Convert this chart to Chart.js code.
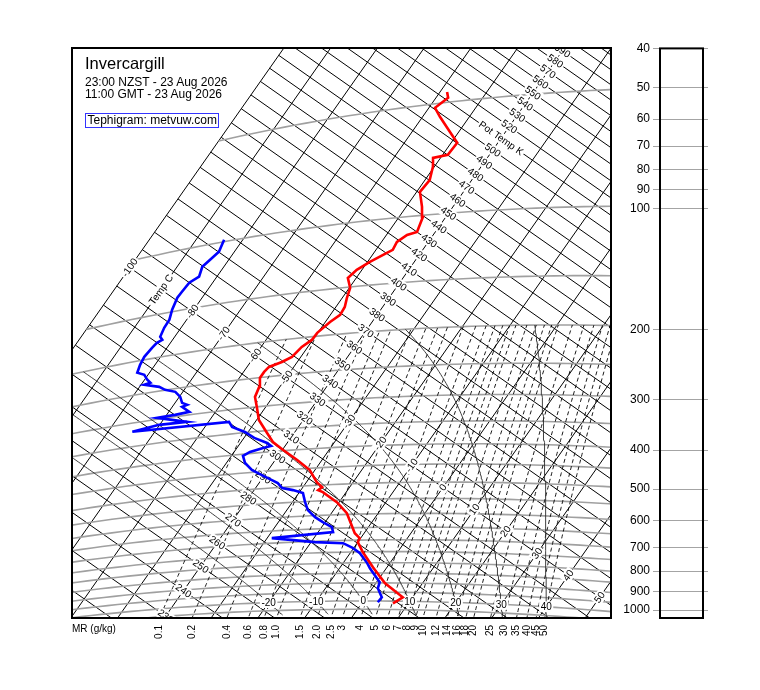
<!DOCTYPE html>
<html>
<head>
<meta charset="utf-8">
<script src="https://cdn.jsdelivr.net/npm/chart.js@4.4.1/dist/chart.umd.min.js"></script>
<style>
  html, body { margin: 0; padding: 0; background: #fff; }
  #wrap { position: relative; width: 760px; height: 690px; font-family: "Liberation Sans", Arial, Helvetica, sans-serif; color: #000; }
  #teph { position: absolute; left: 0; top: 0; }
  #baro { position: absolute; left: 610px; top: 0; }
  .txt { position: absolute; white-space: nowrap; }
  .t1 { left: 85px; top: 55px; font-size: 16.5px; line-height: 16px; }
  .t2 { left: 85px; top: 75.5px; font-size: 12px; line-height: 12px; }
  .t3 { left: 85px; top: 88px; font-size: 12px; line-height: 12px; }
  .src { left: 84.5px; top: 113px; font-size: 12px; line-height: 13px; height: 13px; padding: 0 1px 0 2px; border: 1px solid #3434ff; background: #fff; }
</style>
</head>
<body>
<div id="wrap">
  <canvas id="teph" width="760" height="690"></canvas>
  <canvas id="baro" width="150" height="690"></canvas>
  <div class="txt t1">Invercargill</div>
  <div class="txt t2">23:00 NZST - 23 Aug 2026</div>
  <div class="txt t3">11:00 GMT - 23 Aug 2026</div>
  <div class="txt src">Tephigram: metvuw.com</div>
</div>
<script>
// sounding (hPa, deg C)
const TEMP_P = [1012.9, 977.8, 902.2, 821.5, 751.9, 708.4, 692.0, 671.4, 595.4, 556.4,
  522.1, 515.1, 506.4, 490.6, 455.0, 425.9, 398.1, 377.0, 355.4, 326.2,
  300.2, 281.5, 265.0, 250.5, 241.9, 235.2, 229.9, 224.2, 211.9, 204.1,
  195.9, 184.4, 177.5, 169.4, 160.3, 150.9, 141.5, 135.3, 129.7, 123.9,
  122.0, 116.4, 112.0, 110.6, 101.1, 94.9, 86.3, 80.6, 74.3, 70.3,
  69.6, 64.9, 61.6, 54.5, 51.3, 48.6, 46.8];
const TEMP_T = [6.7, 7.9, 2.0, -3.0, -7.4, -10.0, -10.2, -12.0, -16.7, -20.5,
  -25.0, -26.3, -25.9, -27.8, -31.1, -35.3, -39.8, -43.2, -45.8, -49.5,
  -51.9, -53.8, -54.4, -55.6, -55.6, -55.3, -53.3, -51.9, -51.3, -50.2,
  -50.1, -49.0, -47.9, -48.1, -49.0, -49.8, -51.8, -51.1, -49.5, -47.2,
  -46.4, -46.7, -45.6, -43.9, -44.9, -46.6, -49.3, -49.0, -50.3, -51.6,
  -48.9, -48.7, -51.0, -56.3, -58.7, -57.4, -58.5];

const DEW_P = [1007.7, 978.8, 928.9, 897.0, 861.0, 826.2, 797.6, 756.1, 733.6, 711.3,
  703.4, 679.0, 665.1, 645.4, 625.2, 605.6, 579.5, 551.6, 522.1, 510.9,
  502.5, 486.5, 476.4, 459.9, 443.6, 423.2, 404.6, 396.2, 389.3, 386.1,
  378.2, 363.9, 348.6, 334.9, 323.8, 317.5, 311.6, 313.4, 305.3, 297.1,
  296.4, 294.4, 283.3, 280.9, 276.0, 265.0, 255.3, 249.4, 243.1, 236.0,
  234.4, 229.1, 220.8, 216.1, 205.6, 195.9, 186.2, 181.2, 178.7, 174.7,
  165.3, 157.6, 148.0, 137.4, 132.8, 126.1, 122.6, 115.2, 110.9, 106.3, 98.7];
const DEW_T = [3.3, 3.4, 1.2, 0.7, -1.4, -3.5, -5.1, -7.9, -10.1, -13.0,
  -19.2, -29.0, -16.8, -17.8, -20.5, -22.9, -25.5, -27.3, -29.1, -31.7,
  -34.3, -36.0, -37.7, -40.6, -43.5, -46.0, -47.5, -46.6, -44.4, -43.0,
  -44.3, -47.8, -50.7, -54.2, -55.6, -74.8, -70.1, -64.6, -68.1, -71.6,
  -68.2, -65.6, -67.9, -67.1, -68.5, -69.8, -71.6, -74.1, -75.8, -79.3,
  -78.3, -79.4, -80.8, -82.6, -83.2, -83.5, -83.2, -82.9, -82.2, -83.1,
  -83.6, -83.7, -84.6, -85.3, -85.2, -85.0, -83.8, -84.6, -84.0, -83.3, -84.0];

// diagram furniture
const ISOTHERMS = [-100, -90, -80, -70, -60, -50, -40, -30, -20, -10, 0, 10, 20, 30, 40, 50];
const THETAS = [210, 220, 230, 240, 250, 260, 270, 280, 290, 300, 310, 320, 330, 340, 350, 360,
  370, 380, 390, 400, 410, 420, 430, 440, 450, 460, 470, 480, 490, 500, 510, 520,
  530, 540, 550, 560, 570, 580, 590, 600, 610, 620];
const ISOBARS = [1050, 1000, 950, 900, 850, 800, 750, 700, 650, 600, 550, 500, 450,
  400, 350, 300, 250, 200, 150, 100, 50];
const MIX_RATIOS = [0.1, 0.2, 0.4, 0.6, 0.8, 1.0, 1.5, 2.0, 2.5, 3, 4, 5, 6, 7, 8, 9, 10,
  12, 14, 16, 18, 20, 25, 30, 35, 40, 45, 50];
const MR_TEXT = ['0.1', '0.2', '0.4', '0.6', '0.8', '1.0', '1.5', '2.0', '2.5', '3', '4', '5',
  '6', '7', '8', '9', '10', '12', '14', '16', '18', '20', '25', '30', '35', '40', '45', '50'];
const THETA_W = [-20, -10, 0, 10, 20, 30, 40];
const THETA_LABELS = [230, 240, 250, 260, 270, 280, 290, 300, 310, 320, 330, 340, 350, 360,
  370, 380, 390, 400, 410, 420, 430, 440, 450, 460, 470, 480, 490, 500, 520, 530,
  540, 550, 560, 570, 580, 590];
const TEMP_LABELS = [-100, -80, -70, -60, -50, -30, -20, -10, 0, 10, 20, 30, 40, 50];
const BASE_LABELS = [-20, -10, 0, 10, 20, 30, 40];
const P_TICKS = [40, 50, 60, 70, 80, 90, 100, 200, 300, 400, 500, 600, 700, 800, 900, 1000];

const FONT = '"Liberation Sans", Arial, Helvetica, sans-serif';
Chart.defaults.font.family = FONT;
Chart.defaults.animation = false;

// tephigram projection: T along one axis, ln(theta) along the other, turned ~35 deg
const KAPPA = 0.2857;
const PX_PER_C = 3.827, PX_PER_LN = 733.3;
const COS = 0.8185, SIN = 0.5745;
const T0 = -40, TH0 = 330;

function tephTh(T, th) {
  const a = PX_PER_C * (T - T0), b = PX_PER_LN * Math.log(th / TH0);
  return { x: a * COS + b * SIN, y: -a * SIN + b * COS };
}
function theta(T, p) { return (T + 273.15) * Math.pow(1000 / p, KAPPA); }
function teph(T, p) { return tephTh(T, theta(T, p)); }

function es(Tc) { return 6.112 * Math.exp(17.67 * Tc / (Tc + 243.5)); }
function mrTemp(w, p) {
  const e = w * p / (622 + w), L = Math.log(e / 6.112);
  return 243.5 * L / (17.67 - L);
}
function dTdp(Tk, p) {
  const e = es(Tk - 273.15), rs = 0.622 * e / (p - e);
  const Lv = 2.501e6;
  return (287 * Tk + Lv * rs) / (1005 + Lv * Lv * rs * 0.622 / (287 * Tk * Tk)) / p;
}
function moistPath(thw) {
  const run = (pEnd, dp) => {
    const out = [];
    let Tk = thw + 273.15;
    for (let p = 1000; dp < 0 ? p >= pEnd : p <= pEnd; p += dp) {
      out.push(teph(Tk - 273.15, p));
      const k1 = dTdp(Tk, p), k2 = dTdp(Tk + k1 * dp, p + dp);
      Tk += 0.5 * (k1 + k2) * dp;
    }
    return out;
  };
  return run(1080, 5).reverse().concat(run(200, -5).slice(1));
}

function line(data, color, width, dash) {
  return { data, showLine: true, borderColor: color, borderWidth: width,
    borderDash: dash || [], pointRadius: 0, fill: false, clip: 0 };
}

const datasets = [];
datasets.push(line(TEMP_P.map((p, i) => teph(TEMP_T[i], p)), '#ff0000', 2.6));
datasets.push(line(DEW_P.map((p, i) => teph(DEW_T[i], p)), '#0000ff', 2.6));

THETA_W.forEach(t => datasets.push(line(moistPath(t), '#2a2a2a', 0.9)));
MIX_RATIOS.forEach(w => {
  const pts = [];
  for (let p = 1080; p >= 200; p -= 10) pts.push(teph(mrTemp(w, p), p));
  datasets.push(line(pts, '#000', 0.9, [4, 3]));
});
ISOBARS.forEach(p => {
  const pts = [];
  for (let T = -100; T <= 70; T += 2) pts.push(teph(T, p));
  datasets.push(line(pts, '#a0a0a0', 1.6));
});
THETAS.forEach(th => datasets.push(line([tephTh(-100, th), tephTh(80, th)], '#000', 1)));
ISOTHERMS.forEach(T => datasets.push(line([tephTh(T, 150), tephTh(T, 800)], '#000', 1)));

const ANG_ADIABAT = Math.atan2(SIN, COS);
const ANG_ISOTHERM = ANG_ADIABAT - Math.PI / 2;

function tag(ctx, text, px, py, angle) {
  ctx.save();
  ctx.translate(px, py);
  ctx.rotate(angle);
  const w = ctx.measureText(text).width;
  ctx.fillStyle = '#fff';
  ctx.fillRect(-w / 2 - 1.5, -5.5, w + 3, 11);
  ctx.fillStyle = '#000';
  ctx.textAlign = 'center';
  ctx.textBaseline = 'middle';
  ctx.fillText(text, 0, 0.5);
  ctx.restore();
}

const labelPlugin = {
  id: 'tephLabels',
  beforeDatasetDraw(chart, args) {
    if (args.index !== 1) return;
    const { ctx, chartArea: ca, scales: { x, y } } = chart;
    const at = (pt, text, ang) => tag(ctx, text, x.getPixelForValue(pt.x), y.getPixelForValue(pt.y), ang);
    ctx.save();
    ctx.beginPath();
    ctx.rect(ca.left, ca.top, ca.right - ca.left, ca.bottom - ca.top);
    ctx.clip();
    ctx.font = '10px ' + FONT;
    THETA_LABELS.forEach(th => at(tephTh(T0, th), String(th), ANG_ADIABAT));
    at(tephTh(T0, 510), 'Pot Temp K', ANG_ADIABAT);
    TEMP_LABELS.forEach(t => at(tephTh(t, TH0), String(t), ANG_ISOTHERM));
    at(tephTh(-90, TH0), 'Temp C', ANG_ISOTHERM);
    BASE_LABELS.forEach(t => at(teph(t, 1000), String(t), 0));
    ctx.restore();
  },
  afterDraw(chart) {
    const { ctx, chartArea: ca, scales: { x, y } } = chart;
    ctx.save();
    ctx.lineWidth = 2;
    ctx.strokeStyle = '#000';
    ctx.strokeRect(ca.left, ca.top, ca.right - ca.left, ca.bottom - ca.top);
    ctx.fillStyle = '#000';
    ctx.font = '10px ' + FONT;
    ctx.textAlign = 'left';
    ctx.textBaseline = 'middle';
    ctx.fillText('MR (g/kg)', ca.left, ca.bottom + 11);
    MIX_RATIOS.forEach((w, i) => {
      let lo = 900, hi = 1200;
      for (let k = 0; k < 40; k++) {
        const mid = (lo + hi) / 2;
        if (y.getPixelForValue(teph(mrTemp(w, mid), mid).y) < ca.bottom) lo = mid; else hi = mid;
      }
      const pt = teph(mrTemp(w, lo), lo);
      ctx.save();
      ctx.translate(x.getPixelForValue(pt.x), ca.bottom + 7);
      ctx.rotate(-Math.PI / 2);
      ctx.textAlign = 'right';
      ctx.textBaseline = 'middle';
      ctx.fillText(MR_TEXT[i], 0, 0);
      ctx.restore();
    });
    ctx.restore();
  }
};

new Chart(document.getElementById('teph'), {
  type: 'scatter',
  data: { datasets },
  options: {
    responsive: false,
    animation: false,
    events: [],
    layout: { padding: { left: 72, right: 149, top: 48, bottom: 72 } },
    scales: {
      x: { type: 'linear', display: false, min: -245.7, max: 293.3 },
      y: { type: 'linear', display: false, min: -218.5, max: 351.5 }
    },
    plugins: { legend: { display: false }, tooltip: { enabled: false } }
  },
  plugins: [labelPlugin]
});

// pressure panel on the right (empty wind column)
const boxPlugin = {
  id: 'box',
  afterDraw(chart) {
    const { ctx, chartArea: ca } = chart;
    ctx.save();
    ctx.lineWidth = 2;
    ctx.strokeStyle = '#000';
    ctx.strokeRect(ca.left, ca.top, ca.right - ca.left, ca.bottom - ca.top);
    ctx.restore();
  }
};
const setTicks = s => { s.ticks = P_TICKS.map(v => ({ value: v })); };

new Chart(document.getElementById('baro'), {
  type: 'scatter',
  data: { datasets: [] },
  options: {
    responsive: false,
    animation: false,
    events: [],
    layout: { padding: { left: 0, right: 52, top: 48.4, bottom: 72 } },
    scales: {
      x: { type: 'linear', display: false, min: 0, max: 1 },
      y: {
        type: 'logarithmic', position: 'left', reverse: true, min: 40, max: 1046.9,
        afterBuildTicks: setTicks,
        afterFit: s => { s.width = 50; },
        ticks: { autoSkip: false, padding: 3, color: '#000', font: { size: 12 }, callback: v => String(v) },
        grid: { color: '#a4a4a4', lineWidth: 1, tickLength: 7 },
        border: { display: false }
      },
      y2: {
        type: 'logarithmic', position: 'right', reverse: true, min: 40, max: 1046.9,
        afterBuildTicks: setTicks,
        afterFit: s => { s.width = 5; },
        ticks: { display: false },
        grid: { color: '#a4a4a4', lineWidth: 1, tickLength: 5, drawOnChartArea: false },
        border: { display: false }
      }
    },
    plugins: { legend: { display: false }, tooltip: { enabled: false } }
  },
  plugins: [boxPlugin]
});
</script>
</body>
</html>
